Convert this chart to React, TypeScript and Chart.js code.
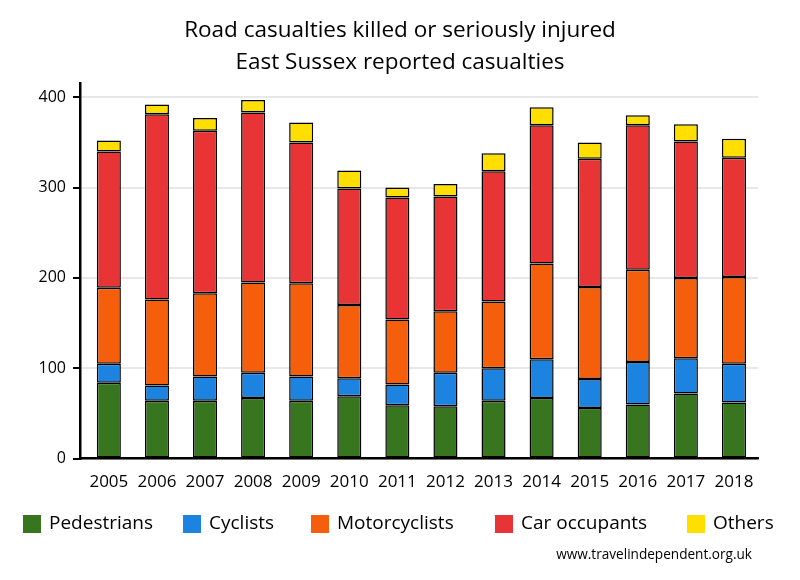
import React, { useEffect, useRef } from "react";
import { Chart, registerables } from "chart.js";

Chart.register(...registerables);

const years = ["2005","2006","2007","2008","2009","2010","2011","2012","2013","2014","2015","2016","2017","2018"];
const pedestrians = [84, 64, 64, 67, 64, 69, 59, 58, 64, 67, 56, 60, 72, 62];
const cyclists = [21, 17, 27, 28, 27, 20, 23, 37, 36, 43, 32, 47, 39, 43];
const motorcyclists = [84, 95, 92, 100, 103, 81, 72, 68, 74, 106, 102, 102, 89, 96];
const carOccupants = [151, 205, 180, 188, 156, 129, 135, 127, 144, 153, 142, 160, 151, 132];
const others = [12, 11, 14, 14, 22, 20, 11, 14, 20, 20, 18, 11, 19, 21];
const yTicks = [0, 100, 200, 300, 400];

const seriesNames = ["Pedestrians", "Cyclists", "Motorcyclists", "Car occupants", "Others"];
const seriesColors = ["#37761f", "#1c84e0", "#f55f0c", "#e83434", "#ffde00"];
const FONT = "'Open Sans', 'DejaVu Sans', sans-serif";

const legendBoxX = [23, 183, 311, 495, 687];

const customLegend = {
  id: "customLegend",
  afterDraw(chart: any) {
    const ctx = chart.ctx;
    ctx.save();
    seriesNames.forEach((n, i) => {
      ctx.fillStyle = seriesColors[i];
      ctx.fillRect(legendBoxX[i], 515, 18, 18);
      ctx.fillStyle = "#000";
      ctx.font = `19px ${FONT}`;
      ctx.textAlign = "left";
      ctx.textBaseline = "middle";
      ctx.fillText(n, legendBoxX[i] + 26, 524);
    });
    ctx.font = `13.6px ${FONT}`;
    ctx.textAlign = "right";
    ctx.textBaseline = "middle";
    ctx.fillStyle = "#000";
    ctx.fillText("www.travelindependent.org.uk", 752, 555);
    ctx.restore();
  },
};

export default function App() {
  const ref = useRef<HTMLCanvasElement | null>(null);
  useEffect(() => {
    if (!ref.current) return;
    const values = [pedestrians, cyclists, motorcyclists, carOccupants, others];
    const chart = new Chart(ref.current, {
      type: "bar",
      data: {
        labels: years,
        datasets: values.map((v, i) => ({
          label: seriesNames[i],
          data: v,
          backgroundColor: seriesColors[i],
          borderColor: "#000",
          borderWidth: 1.5,
          borderSkipped: false,
          barPercentage: 0.5,
          categoryPercentage: 1,
        })),
      },
      plugins: [customLegend],
      options: {
        responsive: false,
        animation: false,
        layout: { padding: { left: 0, right: 0, top: 0, bottom: 75 } },
        plugins: {
          title: {
            display: true,
            text: ["Road casualties killed or seriously injured", "East Sussex reported casualties"],
            color: "#000",
            font: { family: FONT, size: 22.5, weight: "normal", lineHeight: 1.45 },
            padding: { top: 14, bottom: 3.5 },
          },
          legend: { display: false },
          tooltip: { enabled: false },
        },
        scales: {
          x: {
            stacked: true,
            offset: true,
            afterBuildTicks: (s: any) => {
              s._startValue = -0.6;
              s._valueRange = years.length + 0.1;
            },
            grid: { display: false, drawTicks: false },
            border: { display: true, color: "#000", width: 2.5 },
            ticks: { color: "#000", font: { family: FONT, size: 17 }, padding: 13, maxRotation: 0, autoSkip: false },
          },
          y: {
            stacked: true,
            min: 0,
            max: 416,
            afterBuildTicks: (s: any) => { s.ticks = yTicks.map((v) => ({ value: v })); },
            afterFit: (s: any) => { s.width = 80; },
            grid: { color: "#e8e8e8", lineWidth: 2, tickColor: "#000", tickLength: 7, tickWidth: 2 },
            border: { display: true, color: "#000", width: 2.5 },
            ticks: { color: "#000", font: { family: FONT, size: 16 }, padding: 7, includeBounds: false },
          },
          yRight: {
            position: "right",
            display: true,
            min: 0,
            max: 416,
            afterFit: (s: any) => { s.width = 42; },
            grid: { display: false, drawTicks: false },
            border: { display: false },
            ticks: { display: false },
          },
        },
      },
    } as any);
    return () => chart.destroy();
  }, []);
  return (
    <div style={{ position: "fixed", left: 0, top: 0, width: 800, height: 580, background: "#fff" }}>
      <canvas ref={ref} width={800} height={580} style={{ width: 800, height: 580 }} />
    </div>
  );
}
